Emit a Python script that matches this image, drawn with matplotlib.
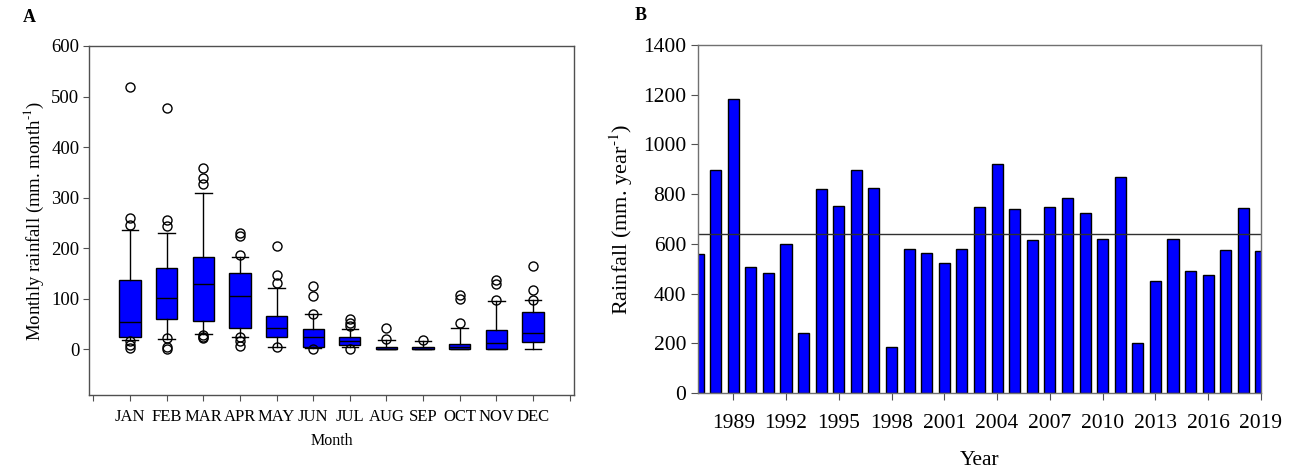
import matplotlib
matplotlib.use("Agg")
import matplotlib.pyplot as plt
import numpy as np

plt.rcParams['font.family'] = ['Liberation Serif', 'DejaVu Serif']
plt.rcParams['mathtext.fontset'] = 'stix'

# ---- Panel A data (monthly box statistics, mm/month) ----
months = ["JAN", "FEB", "MAR", "APR", "MAY", "JUN", "JUL", "AUG", "SEP", "OCT", "NOV", "DEC"]
q1 = [24, 59, 55, 41, 23, 5, 8, 0, 0, 0, 0, 13]
medians = [54, 102, 128, 105, 41, 23, 16, 1, 1, 5, 11, 32]
q3 = [137, 160, 182, 150, 65, 40, 23, 5, 5, 9, 38, 74]
whisker_low = [18, 20, 29, 23, 5, 2, 5, 0, 0, 0, 0, 0]
whisker_high = [236, 229, 308, 182, 120, 69, 39, 17, 15, 41, 95, 97]
outliers = [
    [518, 259, 246, 15, 8, 2],
    [477, 255, 244, 21, 5, 0],
    [358, 338, 326, 28, 23, 21],
    [230, 224, 186, 24, 15, 6],
    [205, 147, 131, 5],
    [125, 106, 69, 0],
    [59, 52, 45, 0],
    [41, 20],
    [18],
    [107, 99, 52],
    [137, 129, 97],
    [165, 116, 98],
]

# ---- Panel B data (annual rainfall, mm/year) ----
years = list(range(1987, 2020))
annual_rain = [559, 896, 1184, 506, 482, 599, 242, 821, 752, 898, 824, 185, 580,
               565, 523, 581, 748, 922, 741, 616, 750, 786, 723, 619, 868, 201,
               451, 618, 489, 474, 576, 746, 571]
mean_rain = 639
year_ticks = [1989, 1992, 1995, 1998, 2001, 2004, 2007, 2010, 2013, 2016, 2019]

W, H = 1293, 469
fig = plt.figure(figsize=(W / 100, H / 100), dpi=100)
spine_col = '#505050'

# ---------------- Panel A ----------------
axA = fig.add_axes([89 / W, (H - 395) / H, 485 / W, 349 / H])
stats = []
for i, m in enumerate(months):
    stats.append(dict(label=m, med=medians[i], q1=q1[i], q3=q3[i],
                      whislo=whisker_low[i], whishi=whisker_high[i],
                      fliers=outliers[i]))
pos = np.arange(1, len(months) + 1)
axA.bxp(stats, positions=pos, widths=0.58, patch_artist=True,
        capwidths=0.45,
        boxprops=dict(facecolor='#0000FF', edgecolor='black', linewidth=1.0),
        medianprops=dict(color='black', linewidth=1.0),
        whiskerprops=dict(color='black', linewidth=1.0),
        capprops=dict(color='black', linewidth=1.0),
        flierprops=dict(marker='o', markerfacecolor='none', markeredgecolor='black',
                        markersize=6.5, markeredgewidth=1.0))
axA.set_xlim(-0.12, 13.12)
axA.set_ylim(-91, 600)
axA.set_yticks([0, 100, 200, 300, 400, 500, 600])
axA.set_xticks(np.arange(0, 14))
axA.set_xticklabels([""] + months + [""])
axA.tick_params(axis='y', labelsize=13.5, direction='out', length=4, color=spine_col, pad=3)
axA.tick_params(axis='x', labelsize=12, direction='out', length=4, color=spine_col, pad=6)
for s in axA.spines.values():
    s.set_color(spine_col)
    s.set_linewidth(1.0)
axA.set_ylabel("Monthly rainfall (mm. month$^{\\text{-1}}$)", fontsize=13.5, labelpad=4)
axA.set_xlabel("Month", fontsize=11.5, labelpad=6)
fig.text(23 / W, 1 - 17 / H, "A", fontsize=13, fontweight='bold', va='center', ha='left')

# ---------------- Panel B ----------------
axB = fig.add_axes([698 / W, (H - 393) / H, 563 / W, 348 / H])
axB.bar(years, annual_rain, width=0.63, color='#0000FF', edgecolor='black', linewidth=1.0)
axB.axhline(mean_rain, color='#303030', linewidth=1.0)
axB.set_xlim(1987, 2019)
axB.set_ylim(0, 1400)
axB.set_yticks(np.arange(0, 1401, 200))
axB.set_xticks(year_ticks)
axB.tick_params(axis='both', labelsize=15.5, direction='out', length=5, color=spine_col)
axB.tick_params(axis='x', pad=10)
for s in axB.spines.values():
    s.set_color('#707070')
    s.set_linewidth(1.0)
axB.set_ylabel("Rainfall (mm. year$^{\\text{-1}}$)", fontsize=16, labelpad=6)
axB.set_xlabel("Year", fontsize=15.5, labelpad=13)
fig.text(635 / W, 1 - 15 / H, "B", fontsize=13, fontweight='bold', va='center', ha='left')

fig.savefig("out.png", dpi=100)
